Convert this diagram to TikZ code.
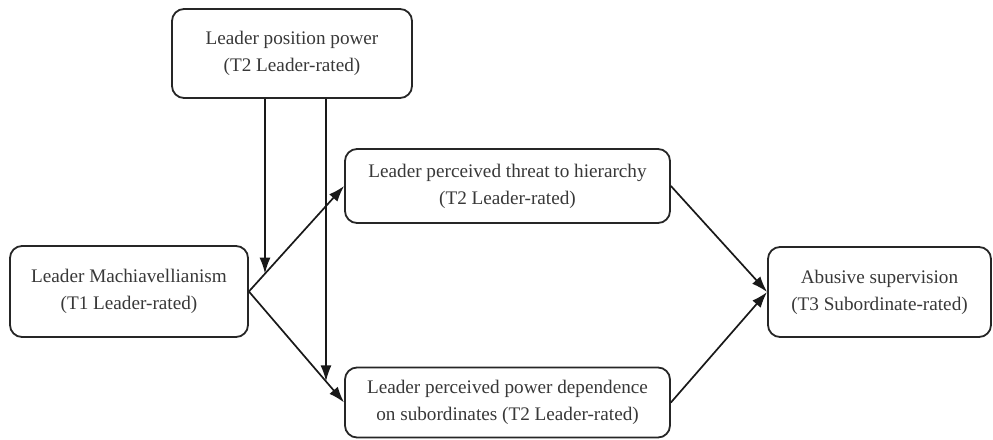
\documentclass[tikz,border=0pt]{standalone}
\usepackage{fontspec}
\setmainfont{Liberation Serif}
\usetikzlibrary{arrows.meta}

\tikzset{
  box/.style={draw=black!85, line width=1.8pt, rounded corners=12pt, align=center,
    text=black!78, inner sep=0pt, font=\fontsize{19.2}{27}\selectfont},
  link/.style={line width=1.7pt, draw=black!90, -{Latex[length=16pt,width=11pt]}}
}

\begin{document}
\begin{tikzpicture}[x=1pt, y=-1pt]
  \clip (0,0) rectangle (993,439);
  \node[box, minimum width=240pt, minimum height=89pt] (power) at (292, 53.5) {Leader position power\\(T2 Leader-rated)};
  \node[box, minimum width=238pt, minimum height=91pt] (mach) at (129, 291.5) {Leader Machiavellianism\\(T1 Leader-rated)};
  \node[box, minimum width=325pt, minimum height=74pt] (threat) at (507.5, 186) {Leader perceived threat to hierarchy\\(T2 Leader-rated)};
  \node[box, minimum width=325pt, minimum height=70pt] (depend) at (507.5, 402.5) {Leader perceived power dependence\\on subordinates (T2 Leader-rated)};
  \node[box, minimum width=223pt, minimum height=90pt] (abuse) at (879.5, 292) {Abusive supervision\\(T3 Subordinate-rated)};

  % paths
  \draw[link] (mach.east) -- (threat.west);
  \draw[link] (mach.east) -- (depend.west);
  \draw[link] (threat.east) -- (abuse.west);
  \draw[link] (depend.east) -- (abuse.west);

  % moderation
  \coordinate (pa) at ([xshift=-27pt]power.south);
  \coordinate (pb) at ([xshift=34pt]power.south);
  \draw[link] (pa) -- (intersection of pa--{[yshift=-300pt]pa} and mach.east--threat.west);
  \draw[link] (pb) -- (intersection of pb--{[yshift=-300pt]pb} and mach.east--depend.west);
\end{tikzpicture}
\end{document}
